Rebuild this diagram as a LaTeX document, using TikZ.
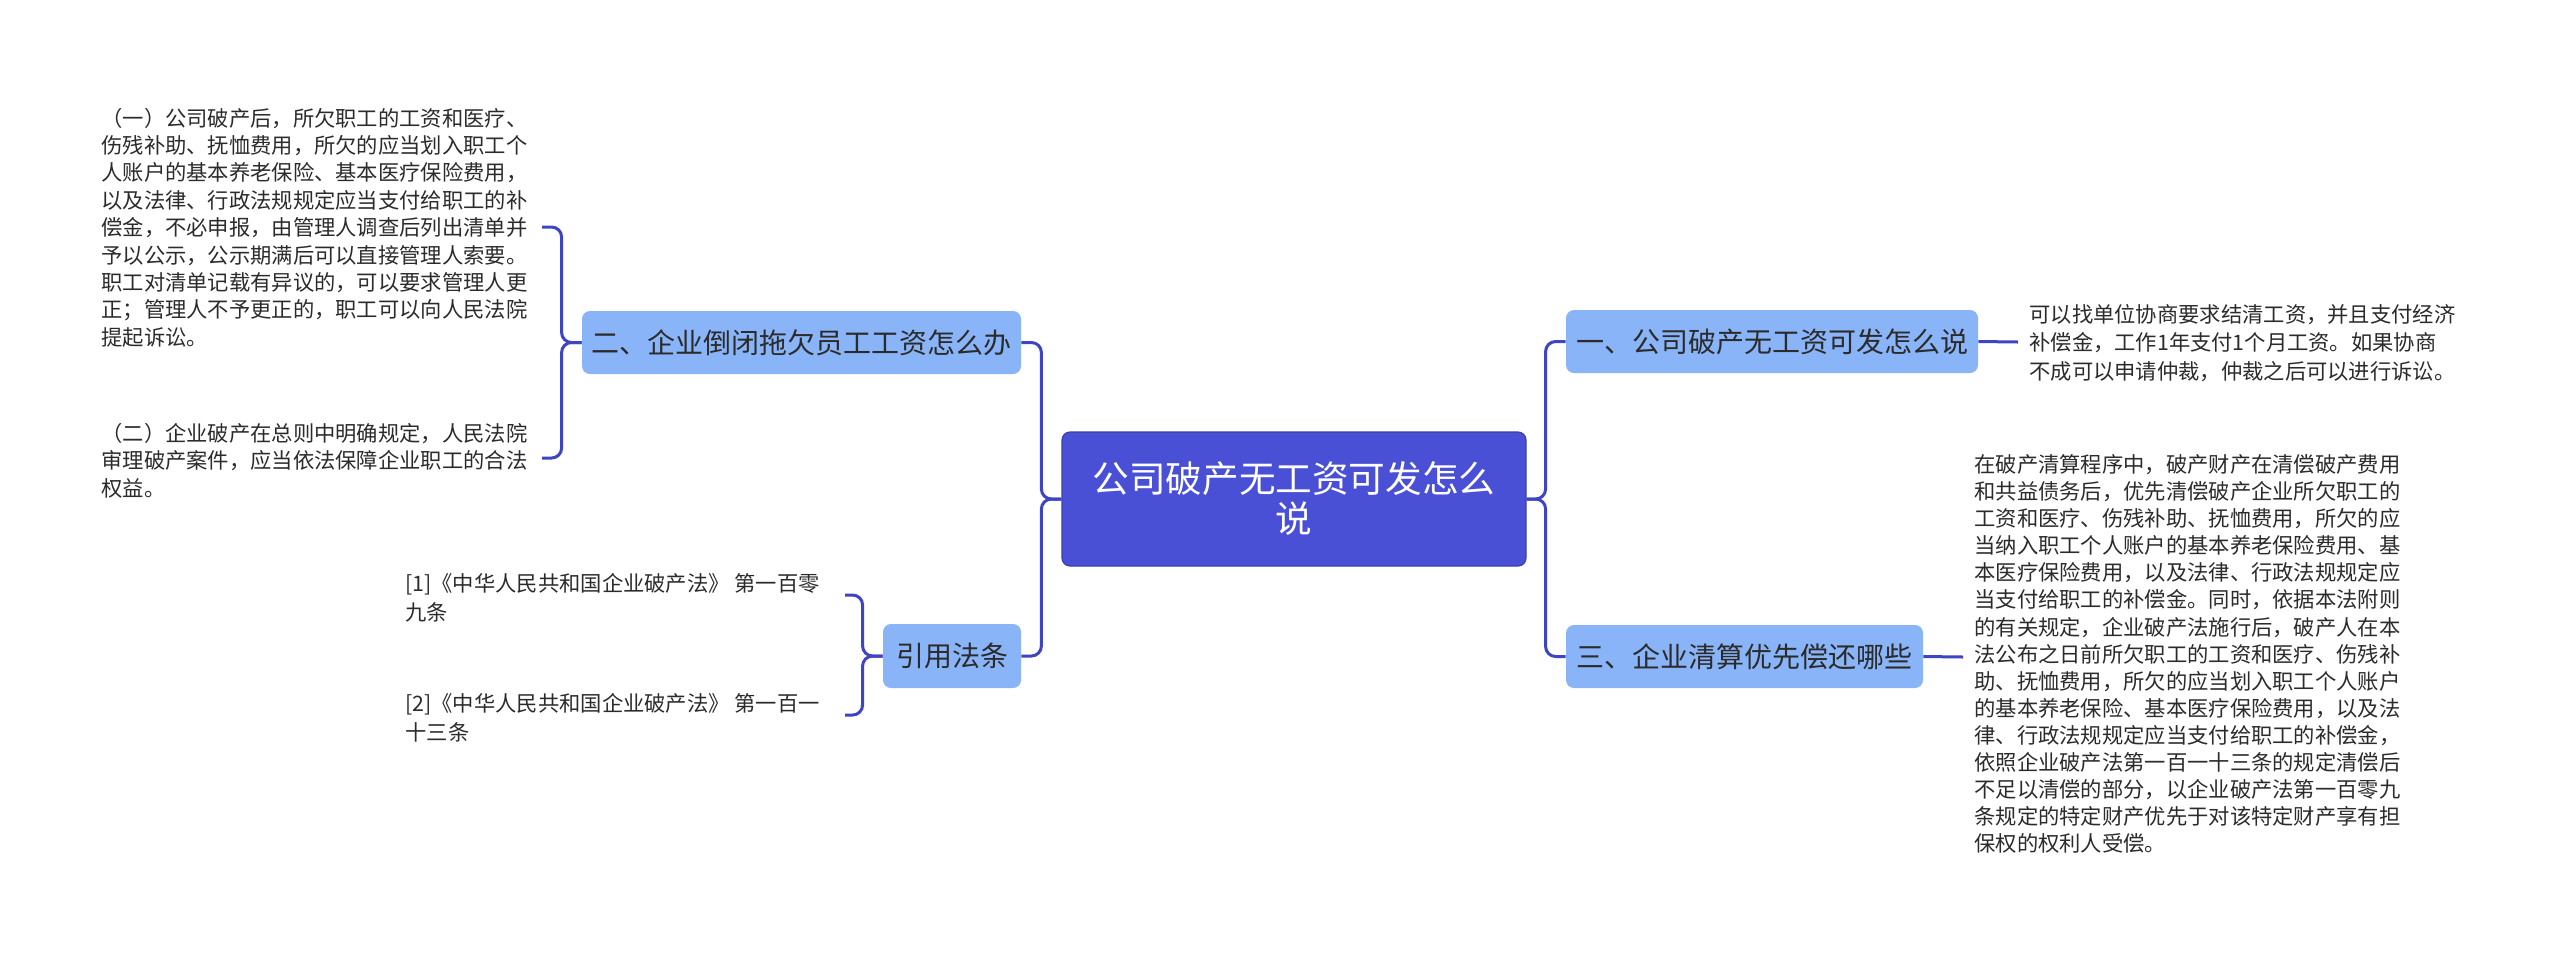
\documentclass[tikz,border=0pt]{standalone}
\usepackage{fontspec}
\setmainfont{Noto Sans CJK SC}
\definecolor{cfill}{HTML}{4A50D6}
\definecolor{cline}{HTML}{3E45C2}
\definecolor{bfill}{HTML}{8AB4F8}
\definecolor{txt}{HTML}{2B2B2B}
\begin{document}
\begin{tikzpicture}[x=0.5pt,y=-0.5pt,
  conn/.style={draw=cline,line width=1.5pt,rounded corners=5pt},
  centerbox/.style={fill=cfill,draw=cfill!80!black,line width=0.6pt,rounded corners=4pt,text=white,
    font=\fontsize{18.3pt}{20pt}\selectfont,align=center,inner sep=0pt},
  branchbox/.style={fill=bfill,rounded corners=4pt,text=txt,
    font=\fontsize{14pt}{16pt}\selectfont,inner sep=0pt,minimum height=31.5pt},
  leaftext/.style={anchor=west,inner sep=0pt,align=left,text=txt,
    font=\fontsize{10.65pt}{13.7pt}\selectfont},
  citetext/.style={anchor=west,inner sep=0pt,align=left,text=txt,
    font=\fontsize{10.65pt}{14.5pt}\selectfont}]
\useasboundingbox (0,0) rectangle (2560,966);
\fill[white] (0,0) rectangle (2560,966);

\node[centerbox,minimum width=232pt,minimum height=67pt] (c) at (1294,499)
  {公司破产无工资可发怎么\\说};

\node[branchbox,minimum width=219.5pt] (b2) at (801.5,342.5) {二、企业倒闭拖欠员工工资怎么办};
\node[branchbox,minimum width=69pt,minimum height=32pt] (b4) at (952,656) {引用法条};
\node[branchbox,minimum width=206pt] (b1) at (1772,341.5) {一、公司破产无工资可发怎么说};
\node[branchbox,minimum width=178.5pt] (b3) at (1744.5,656.5) {三、企业清算优先偿还哪些};

\node[leaftext] (t1) at (101,227.5) {（一）公司破产后，所欠职工的工资和医疗、\\
伤残补助、抚恤费用，所欠的应当划入职工个\\
人账户的基本养老保险、基本医疗保险费用，\\
以及法律、行政法规规定应当支付给职工的补\\
偿金，不必申报，由管理人调查后列出清单并\\
予以公示，公示期满后可以直接管理人索要。\\
职工对清单记载有异议的，可以要求管理人更\\
正；管理人不予更正的，职工可以向人民法院\\
提起诉讼。};
\node[leaftext] (t2) at (101,460.5) {（二）企业破产在总则中明确规定，人民法院\\
审理破产案件，应当依法保障企业职工的合法\\
权益。};
\node[citetext] (r1) at (405,597.5) {[1]《中华人民共和国企业破产法》 第一百零\\九条};
\node[citetext] (r2) at (405,717.5) {[2]《中华人民共和国企业破产法》 第一百一\\十三条};
\node[leaftext,font=\fontsize{10.65pt}{14.25pt}\selectfont] (t3) at (2029,343) {可以找单位协商要求结清工资，并且支付经济\\
补偿金，工作1年支付1个月工资。如果协商\\
不成可以申请仲裁，仲裁之后可以进行诉讼。};
\node[leaftext,font=\fontsize{10.65pt}{13.55pt}\selectfont] (t4) at (1974,654) {在破产清算程序中，破产财产在清偿破产费用\\
和共益债务后，优先清偿破产企业所欠职工的\\
工资和医疗、伤残补助、抚恤费用，所欠的应\\
当纳入职工个人账户的基本养老保险费用、基\\
本医疗保险费用，以及法律、行政法规规定应\\
当支付给职工的补偿金。同时，依据本法附则\\
的有关规定，企业破产法施行后，破产人在本\\
法公布之日前所欠职工的工资和医疗、伤残补\\
助、抚恤费用，所欠的应当划入职工个人账户\\
的基本养老保险、基本医疗保险费用，以及法\\
律、行政法规规定应当支付给职工的补偿金，\\
依照企业破产法第一百一十三条的规定清偿后\\
不足以清偿的部分，以企业破产法第一百零九\\
条规定的特定财产优先于对该特定财产享有担\\
保权的权利人受偿。};

\coordinate (k1) at (542,227);
\coordinate (k2) at (542,458);
\coordinate (k3) at (845,595);
\coordinate (k4) at (845,715);
\coordinate (k5) at (2018,342);
\coordinate (k6) at (1963,657);

\draw[conn] (c.west) -- ++(-20,0) |- (b2.east);
\draw[conn] (c.west) -- ++(-20,0) |- (b4.east);
\draw[conn] (c.east) -- ++(19,0) |- (b1.west);
\draw[conn] (c.east) -- ++(19,0) |- (b3.west);

\draw[conn] (b2.west) -- ++(-20,0) |- (k1);
\draw[conn] (b2.west) -- ++(-20,0) |- (k2);
\draw[conn] (b4.west) -- ++(-20,0) |- (k3);
\draw[conn] (b4.west) -- ++(-20,0) |- (k4);
\draw[conn] (b1.east) -- (k5);
\draw[conn] (b3.east) -- (k6);
\end{tikzpicture}
\end{document}
